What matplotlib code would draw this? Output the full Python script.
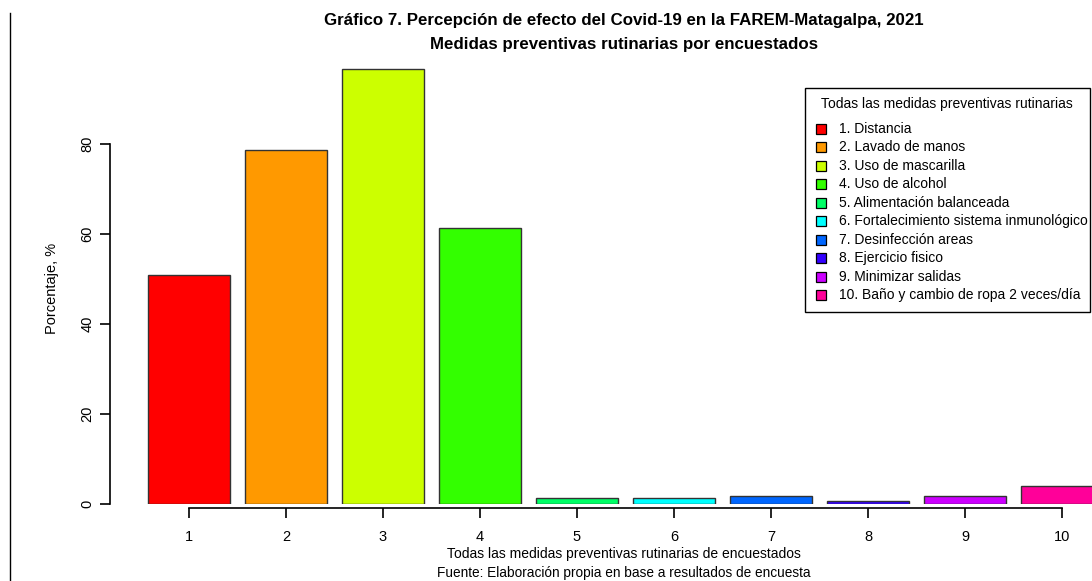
import matplotlib
matplotlib.use('Agg')
import matplotlib.pyplot as plt
from matplotlib.lines import Line2D
from matplotlib.patches import Rectangle

plt.rcParams['font.family'] = ['Liberation Sans', 'DejaVu Sans']

# datos
medidas = ['1. Distancia', '2. Lavado de manos', '3. Uso de mascarilla',
           '4. Uso de alcohol', '5. Alimentación balanceada',
           '6. Fortalecimiento sistema inmunológico', '7. Desinfección areas',
           '8. Ejercicio fisico', '9. Minimizar salidas',
           '10. Baño y cambio de ropa 2 veces/día']
posiciones = [1, 2, 3, 4, 5, 6, 7, 8, 9, 10]
porcentaje = [50.9, 78.7, 96.7, 61.3, 1.3, 1.3, 1.7, 0.7, 1.7, 4.1]
colores = ['#FF0000', '#FF9900', '#CCFF00', '#33FF00', '#00FF66',
           '#00FFFF', '#0066FF', '#3300FF', '#CC00FF', '#FF0099']

W, H = 1092, 581
fig = plt.figure(figsize=(W / 100, H / 100), dpi=100)


def fx(px):
    return px / W


def fy(py):
    return 1 - py / H


# ejes en pixeles
left_px, right_px, bottom_px, top_px = 110, 1092, 504, 50
ax = fig.add_axes([fx(left_px), fy(bottom_px),
                   (right_px - left_px) / W, (bottom_px - top_px) / H])

px_x = 97.0
ax.set_xlim(1 - (189 - left_px) / px_x, 1 + (right_px - 189) / px_x)
ax.set_ylim(0, (bottom_px - top_px) / 4.5)

ax.bar(posiciones, porcentaje, width=0.845, color=colores,
       edgecolor='#333333', linewidth=1)

for s in ['top', 'right']:
    ax.spines[s].set_visible(False)
ax.spines['left'].set_bounds(0, 80)
ax.spines['bottom'].set_bounds(1, 10)
ax.spines['bottom'].set_position(('outward', 3))
ax.spines['left'].set_linewidth(1.2)
ax.spines['bottom'].set_linewidth(1.2)

ax.set_yticks([0, 20, 40, 60, 80])
ax.set_xticks(posiciones)
ax.set_xticklabels([str(p) for p in posiciones])
ax.tick_params(axis='y', length=7, width=1.2, labelsize=10.5, pad=4)
ax.tick_params(axis='x', length=7, width=1.2, labelsize=10.5, pad=9)
for t in ax.get_yticklabels():
    t.set_rotation(90)
    t.set_va('center')

fig.text(fx(52), fy(288), 'Porcentaje, %', rotation=90,
         ha='center', va='center', fontsize=10.5)
fig.text(fx(624), fy(554),
         'Todas las medidas preventivas rutinarias de encuestados',
         ha='center', va='center', fontsize=10)
fig.text(fx(624), fy(573),
         'Fuente: Elaboración propia en base a resultados de encuesta',
         ha='center', va='center', fontsize=9.8)

fig.text(fx(624), fy(21),
         'Gráfico 7. Percepción de efecto del Covid-19 en la FAREM-Matagalpa, 2021',
         ha='center', va='center', fontsize=12.2, fontweight='bold')
fig.text(fx(624), fy(45),
         'Medidas preventivas rutinarias por encuestados',
         ha='center', va='center', fontsize=12.2, fontweight='bold')

# leyenda al estilo de R
fig.add_artist(Rectangle((fx(805), fy(312)), (1090 - 805) / W, (312 - 88) / H,
                         facecolor='white', edgecolor='black', linewidth=1))
fig.text(fx(947), fy(104), 'Todas las medidas preventivas rutinarias',
         ha='center', va='center', fontsize=10)
paso = (295 - 129) / 9
for i, (m, c) in enumerate(zip(medidas, colores)):
    yc = 129 + i * paso
    fig.add_artist(Rectangle((fx(816), fy(yc + 5)), 10 / W, 10 / H,
                             facecolor=c, edgecolor='black', linewidth=0.9))
    fig.text(fx(839), fy(yc), m, ha='left', va='center', fontsize=10)

# linea vertical del borde izquierdo de la captura
fig.add_artist(Line2D([fx(10), fx(10)], [0, fy(13)], color='black', linewidth=1))

fig.savefig('out.png', dpi=100)
